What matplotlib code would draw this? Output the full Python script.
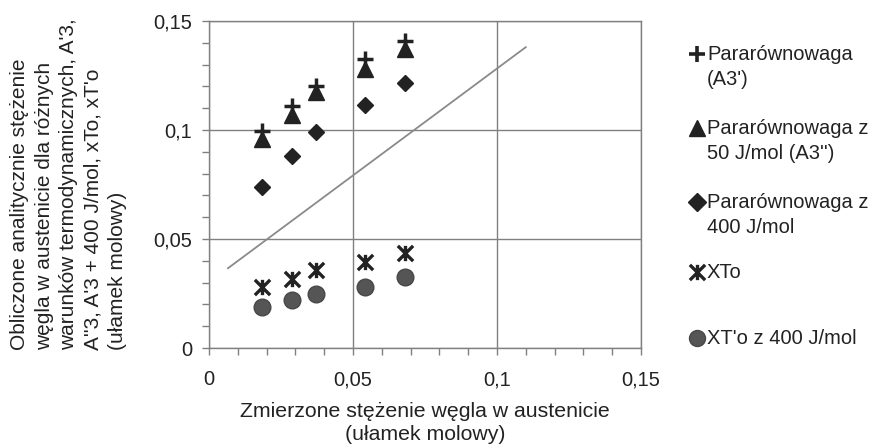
import matplotlib
matplotlib.use("Agg")
import matplotlib.pyplot as plt
from matplotlib.ticker import MultipleLocator, FuncFormatter
from matplotlib.path import Path

plt.rcParams['font.family'] = ['Liberation Sans', 'DejaVu Sans']

# ---- data ----
x_measured = [0.0185, 0.0287, 0.0370, 0.0543, 0.0680]
a3_prime = [0.0997, 0.1110, 0.1200, 0.1326, 0.1410]          # Pararównowaga (A3')
a3_50 = [0.0960, 0.1070, 0.1174, 0.1280, 0.1370]             # Pararównowaga z 50 J/mol (A3'')
a3_400 = [0.0739, 0.0880, 0.0990, 0.1115, 0.1216]            # Pararównowaga z 400 J/mol
xto = [0.0280, 0.0317, 0.0358, 0.0395, 0.0436]               # XTo
xto_400 = [0.0188, 0.0220, 0.0248, 0.0280, 0.0326]           # XT'o z 400 J/mol
line_x = [0.0066, 0.1100]
line_y = [0.0366, 0.1380]

labels = ["Pararównowaga\n(A3')",
          "Pararównowaga z\n50 J/mol (A3'')",
          "Pararównowaga z\n400 J/mol",
          "XTo",
          "XT'o z 400 J/mol"]
xlabel = "Zmierzone stężenie węgla w austenicie\n(ułamek molowy)"
ylabel = ("Obliczone analitycznie stężenie\n"
          "węgla w austenicie dla różnych\n"
          "warunków termodynamicznych, A'3,\n"
          "A''3, A'3 + 400 J/mol, xTo, xT'o\n"
          "(ułamek molowy)")

# asterisk marker: vertical bar plus an X
star = Path([(0, -1), (0, 1), (-1, -1), (1, 1), (-1, 1), (1, -1)],
            [Path.MOVETO, Path.LINETO, Path.MOVETO, Path.LINETO, Path.MOVETO, Path.LINETO])

W, H = 881, 446
fig = plt.figure(figsize=(W / 100, H / 100), dpi=100)
L, R, T, B = 209, 641, 21, 348
ax = fig.add_axes([L / W, 1 - B / H, (R - L) / W, (B - T) / H])

dark = '#222222'
grey = '#808080'
FS = 14.5

ax.plot(line_x, line_y, color='#8a8a8a', lw=1.3, zorder=2)
ax.plot(x_measured, a3_50, ls='none', marker='^', ms=11, color=dark, zorder=3)
ax.plot(x_measured, a3_prime, ls='none', marker='+', ms=11, mew=2.5, color=dark, zorder=4)
ax.plot(x_measured, a3_400, ls='none', marker='D', ms=8.5, color=dark, zorder=3)
ax.plot(x_measured, xto, ls='none', marker=star, ms=11, mew=2.4, color=dark, zorder=3)
ax.plot(x_measured, xto_400, ls='none', marker='o', ms=12, mfc='#555555', mec='#474747', zorder=3)

ax.set_xlim(0, 0.15)
ax.set_ylim(0, 0.15)
ax.xaxis.set_major_locator(MultipleLocator(0.05))
ax.yaxis.set_major_locator(MultipleLocator(0.05))
ax.xaxis.set_minor_locator(MultipleLocator(0.01))
ax.yaxis.set_minor_locator(MultipleLocator(0.01))
fmt = FuncFormatter(lambda v, p: f"{round(v, 4):g}".replace('.', ','))
ax.xaxis.set_major_formatter(fmt)
ax.yaxis.set_major_formatter(fmt)
ax.grid(True, which='major', color=grey, lw=1.0)
for s in ax.spines.values():
    s.set_color(grey)
    s.set_linewidth(1.0)
ax.tick_params(which='both', direction='out', color=grey, length=5, width=1.0)
ax.tick_params(axis='x', which='major', pad=11, labelsize=FS, labelcolor='#222222')
ax.tick_params(axis='y', which='major', pad=7, labelsize=FS, labelcolor='#222222')
ax.set_axisbelow(True)

ax.set_xlabel(xlabel, fontsize=15.3, color='#222222', labelpad=9, linespacing=1.3)
ax.set_ylabel(ylabel, fontsize=15, color='#222222', labelpad=19,
              multialignment='left', linespacing=1.36)

# ---- legend (drawn in pixel coordinates) ----
lax = fig.add_axes([0, 0, 1, 1], facecolor='none')
lax.set_xlim(0, W)
lax.set_ylim(H, 0)
lax.axis('off')
leg_y = [54, 128, 202, 272, 338]
leg_styles = [dict(marker='+', ms=12, mew=2.6, color=dark),
              dict(marker='^', ms=12, color=dark),
              dict(marker='D', ms=9, color=dark),
              dict(marker=star, ms=11, mew=2.4, color=dark),
              dict(marker='o', ms=11.5, mfc='#555555', mec='#474747')]
line_h = 26
for y, st, lab in zip(leg_y, leg_styles, labels):
    lax.plot([697], [y], ls='none', **st)
    n = lab.count('\n') + 1
    lax.text(707, y + (n - 1) * line_h / 2, lab, fontsize=FS, color='#222222',
             ha='left', va='center', linespacing=1.45)

fig.savefig('out.png', dpi=100)
